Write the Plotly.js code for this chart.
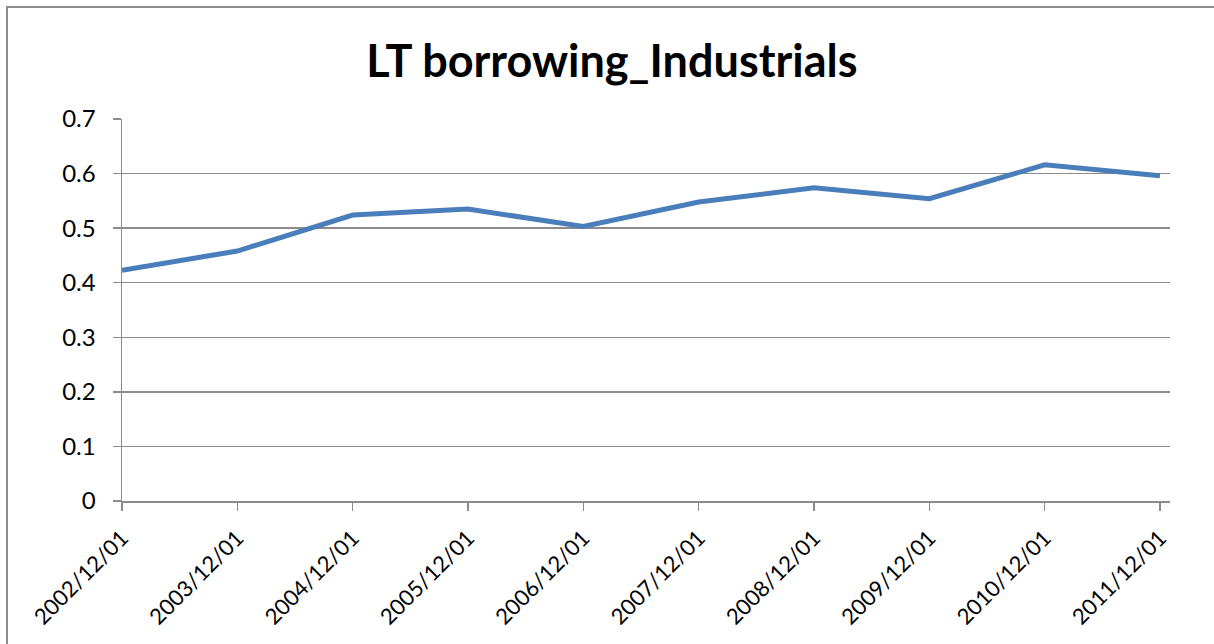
<!DOCTYPE html>
<html>
<head>
<meta charset="utf-8">
<script src="https://cdn.plot.ly/plotly-3.0.1.min.js"></script>
<style>
  html, body { margin: 0; padding: 0; background: #ffffff; overflow: hidden; }
  #wrap { position: relative; width: 1214px; height: 644px; }
  #chart { position: absolute; left: 0; top: 0; width: 1214px; height: 644px; }
  #frame { position: absolute; left: 6px; top: 6px; width: 2000px; height: 2000px;
           border-left: 2px solid #8c8c8c; border-top: 2px solid #8c8c8c; pointer-events: none; }
</style>
</head>
<body>
<div id="wrap">
  <div id="chart"></div>
  <div id="frame"></div>
</div>
<script>
const categories = ["2002/12/01","2003/12/01","2004/12/01","2005/12/01","2006/12/01",
                    "2007/12/01","2008/12/01","2009/12/01","2010/12/01","2011/12/01"];
const values = [0.423, 0.458, 0.524, 0.535, 0.503, 0.548, 0.574, 0.554, 0.616, 0.596];
const yTicks = [0, 0.1, 0.2, 0.3, 0.4, 0.5, 0.6, 0.7];
const yTickText = ["0", "0.1", "0.2", "0.3", "0.4", "0.5", "0.6", "0.7"];

const idx = categories.map((c, i) => i);

const trace = {
  x: idx,
  y: values,
  type: "scatter",
  mode: "lines",
  line: { color: "#4A7EBB", width: 5 },
  hoverinfo: "skip"
};

const font = "Lato, 'Open Sans', 'Liberation Sans', sans-serif";

const layout = {
  width: 1214,
  height: 644,
  paper_bgcolor: "#ffffff",
  plot_bgcolor: "#ffffff",
  margin: { l: 122, r: 44, t: 119, b: 143, pad: 0 },
  showlegend: false,
  title: {
    text: "<b>LT borrowing_Industrials</b>",
    font: { family: font, size: 45, color: "#000000" },
    x: 0.504, xref: "container", xanchor: "center",
    y: 1 - 61 / 644, yref: "container", yanchor: "middle"
  },
  xaxis: {
    range: [0, 9.087],
    tickmode: "array",
    tickvals: idx,
    ticktext: categories,
    tickangle: -45,
    ticks: "outside",
    ticklen: 8,
    tickwidth: 1.5,
    tickcolor: "#8c8c8c",
    showgrid: false,
    zeroline: false,
    showline: true,
    linecolor: "#8c8c8c",
    linewidth: 1.5,
    ticklabelstandoff: 6,
    tickfont: { family: font, size: 22, color: "#000000" },
    fixedrange: true
  },
  yaxis: {
    range: [0, 0.7],
    tickmode: "array",
    tickvals: yTicks,
    ticktext: yTickText,
    ticks: "outside",
    ticklen: 8,
    tickwidth: 1.5,
    tickcolor: "#8c8c8c",
    showgrid: true,
    gridcolor: "#8c8c8c",
    gridwidth: 1.5,
    zeroline: false,
    showline: true,
    linecolor: "#8c8c8c",
    linewidth: 1.5,
    ticklabelstandoff: 12,
    tickfont: { family: font, size: 24, color: "#000000" },
    fixedrange: true
  }
};

Plotly.newPlot("chart", [trace], layout, { displayModeBar: false, staticPlot: true });
</script>
</body>
</html>
